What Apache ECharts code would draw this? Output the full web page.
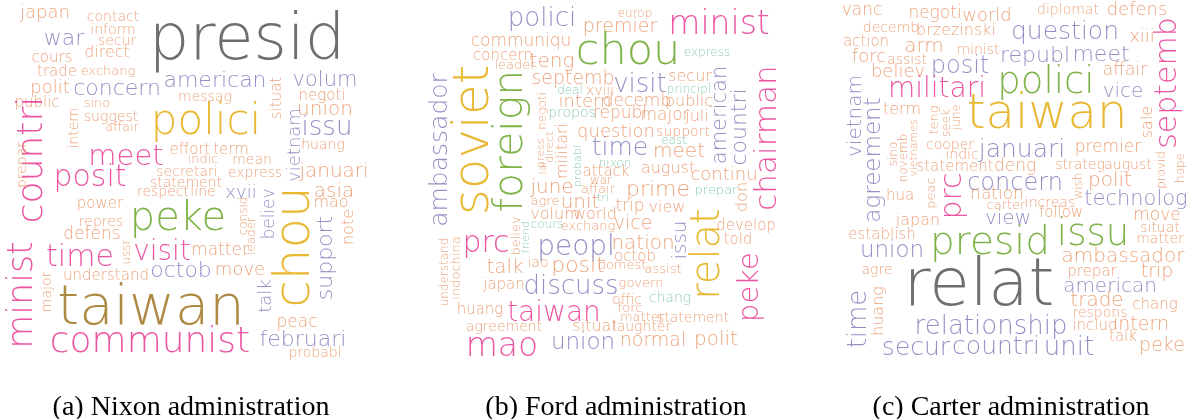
<!DOCTYPE html>
<html>
<head>
    <meta charset="utf-8">
    <title>word clouds by administration</title>
    <script src="https://cdn.jsdelivr.net/npm/echarts@6/dist/echarts.min.js"></script>
</head>
<body style="margin:0;background:#fff;">
<div id="main" style="width:1194px;height:419px;"></div>
<script type="text/javascript">
    // each word: [stem, x, y, weight, vertical, colour group]
    var nixonWords = [
        ['presid', 247, 42, 64, 0, 'k'], ['japan', 45, 13, 18, 0, 'o'], ['contact', 113, 17, 14, 0, 'o'],
        ['inform', 113, 30, 14, 0, 'o'], ['secur', 117, 41, 14, 0, 'o'], ['war', 64, 39, 22, 0, 'u'],
        ['direct', 107, 53, 16, 0, 'o'], ['cours', 52, 58, 15, 0, 'o'], ['trade', 57, 72, 15, 0, 'o'],
        ['exchang', 108, 72, 13, 0, 'o'], ['polit', 50, 88, 18, 0, 'o'], ['concern', 117, 89, 22, 0, 'u'],
        ['american', 215, 81, 22, 0, 'u'], ['volum', 325, 81, 21, 0, 'u'], ['messag', 205, 97, 14, 0, 'o'],
        ['situat', 277, 98, 15, 1, 'o'], ['negoti', 322, 96, 15, 0, 'o'], ['public', 37, 103, 15, 0, 'o'],
        ['sino', 97, 104, 13, 0, 'o'], ['suggest', 111, 117, 14, 0, 'o'], ['affair', 122, 128, 13, 0, 'o'],
        ['intern', 74, 128, 14, 1, 'o'], ['polici', 206, 123, 42, 0, 'y'], ['union', 325, 110, 20, 0, 'o'],
        ['vietnam', 295, 145, 18, 1, 'u'], ['issu', 327, 128, 26, 0, 'u'], ['huang', 323, 145, 14, 0, 'o'],
        ['countri', 33, 160, 36, 1, 'p'], ['meet', 126, 157, 29, 0, 'p'], ['effort', 190, 150, 15, 0, 'o'],
        ['term', 231, 150, 15, 0, 'o'], ['prepar', 22, 165, 14, 1, 'o'], ['indic', 203, 160, 13, 0, 'o'],
        ['mean', 252, 160, 14, 0, 'o'], ['secretari', 187, 172, 14, 0, 'o'], ['express', 255, 173, 14, 0, 'o'],
        ['januari', 334, 172, 20, 0, 'o'], ['posit', 90, 178, 30, 0, 'p'], ['statement', 186, 183, 14, 0, 'o'],
        ['respect', 163, 192, 14, 0, 'o'], ['line', 203, 192, 14, 0, 'o'], ['xvii', 241, 193, 18, 0, 'u'],
        ['asia', 334, 192, 20, 0, 'o'], ['mao', 331, 203, 16, 0, 'o'], ['believ', 270, 214, 17, 1, 'u'],
        ['consid', 244, 216, 12, 1, 'o'], ['leader', 252, 236, 12, 1, 'o'], ['note', 349, 227, 16, 1, 'o'],
        ['support', 326, 258, 22, 1, 'u'], ['chou', 296, 247, 50, 1, 'y'], ['peke', 178, 220, 40, 0, 'g'],
        ['power', 100, 204, 15, 0, 'o'], ['repres', 101, 222, 14, 0, 'o'], ['defens', 92, 235, 17, 0, 'o'],
        ['ussr', 127, 252, 12, 1, 'o'], ['time', 80, 258, 30, 0, 'p'], ['visit', 162, 253, 28, 0, 'p'],
        ['matter', 220, 251, 17, 0, 'o'], ['octob', 181, 271, 22, 0, 'u'], ['understand', 106, 276, 15, 0, 'o'],
        ['move', 240, 270, 18, 0, 'o'], ['minist', 23, 295, 35, 1, 'p'], ['major', 47, 292, 14, 1, 'o'],
        ['taiwan', 151, 309, 56, 0, 'b'], ['talk', 266, 296, 18, 1, 'u'], ['communist', 150, 343, 36, 0, 'p'],
        ['peac', 297, 323, 17, 0, 'o'], ['februari', 303, 340, 22, 0, 'u'], ['probabl', 315, 353, 14, 0, 'o']
    ];

    var fordWords = [
        ['polici', 117, 19, 26, 0, 'u'], ['premier', 195, 27, 19, 0, 'o'], ['europ', 210, 14, 12, 0, 'o'],
        ['minist', 294, 25, 33, 0, 'p'], ['communiqu', 96, 42, 17, 0, 'o'], ['concern', 78, 56, 15, 0, 'o'],
        ['leader', 90, 66, 13, 0, 'o'], ['teng', 127, 62, 20, 0, 'o'], ['chou', 203, 53, 43, 0, 'g'],
        ['express', 282, 53, 12, 0, 't'], ['ambassador', 15, 150, 25, 1, 'u'], ['soviet', 50, 140, 50, 1, 'y'],
        ['foreign', 86, 141, 41, 1, 'g'], ['septemb', 148, 79, 19, 0, 'o'], ['visit', 215, 85, 26, 0, 'u'],
        ['secur', 265, 77, 16, 0, 'o'], ['principl', 264, 90, 12, 0, 't'], ['deal', 145, 91, 12, 0, 't'],
        ['xviii', 175, 91, 14, 0, 'o'], ['intern', 160, 102, 18, 0, 'o'], ['decemb', 212, 102, 17, 0, 'o'],
        ['public', 264, 102, 16, 0, 'o'], ['negoti', 118, 111, 12, 1, 'o'], ['propos', 147, 113, 14, 0, 't'],
        ['republ', 195, 114, 17, 0, 'o'], ['major', 240, 116, 17, 0, 'o'], ['juli', 272, 117, 16, 0, 'o'],
        ['american', 296, 115, 21, 1, 'u'], ['countri', 315, 127, 22, 1, 'u'], ['chairman', 343, 138, 31, 1, 'p'],
        ['militari', 138, 151, 16, 1, 'o'], ['press', 116, 153, 11, 1, 'o'], ['direct', 125, 147, 11, 1, 'o'],
        ['lai', 118, 168, 11, 1, 'o'], ['probabl', 153, 166, 11, 1, 't'], ['question', 191, 132, 18, 0, 'o'],
        ['time', 195, 148, 25, 0, 'u'], ['support', 258, 132, 14, 0, 'o'], ['east', 249, 141, 12, 0, 't'],
        ['meet', 254, 152, 20, 0, 'o'], ['nixon', 190, 164, 12, 0, 't'], ['attack', 181, 172, 15, 0, 'o'],
        ['august', 243, 169, 16, 0, 'o'], ['continu', 299, 175, 18, 0, 'o'], ['war', 176, 181, 12, 0, 'o'],
        ['affair', 173, 190, 13, 0, 'o'], ['tri', 178, 198, 11, 0, 't'], ['june', 127, 188, 20, 0, 'o'],
        ['agre', 120, 202, 13, 0, 'o'], ['unit', 155, 203, 20, 0, 'o'], ['volum', 130, 215, 16, 0, 'o'],
        ['world', 170, 215, 16, 0, 'o'], ['cours', 122, 225, 12, 0, 't'], ['exchang', 163, 227, 13, 0, 'o'],
        ['believ', 92, 236, 13, 1, 'o'], ['friend', 101, 237, 11, 1, 't'], ['prime', 233, 190, 22, 0, 'o'],
        ['prepar', 291, 191, 13, 0, 't'], ['don', 318, 197, 16, 1, 'o'], ['trip', 205, 207, 17, 0, 'o'],
        ['view', 242, 208, 16, 0, 'o'], ['vice', 208, 224, 19, 0, 'o'], ['develop', 321, 226, 15, 0, 'o'],
        ['told', 313, 240, 15, 0, 'o'], ['issu', 256, 240, 20, 1, 'u'], ['relat', 284, 254, 40, 1, 'y'],
        ['peke', 325, 287, 29, 1, 'p'], ['nation', 218, 244, 20, 0, 'o'], ['octob', 210, 257, 15, 0, 'o'],
        ['peopl', 151, 248, 28, 0, 'u'], ['prc', 61, 244, 30, 0, 'p'], ['understand', 20, 272, 12, 1, 'o'],
        ['indochina', 32, 268, 13, 1, 'o'], ['talk', 80, 268, 20, 0, 'o'], ['iao', 113, 263, 14, 0, 'o'],
        ['posit', 153, 266, 22, 0, 'o'], ['domest', 197, 266, 13, 0, 'o'], ['assist', 238, 270, 13, 0, 'o'],
        ['japan', 79, 285, 15, 0, 'o'], ['discuss', 146, 287, 26, 0, 'u'], ['govern', 216, 284, 13, 0, 'o'],
        ['chang', 245, 298, 14, 0, 't'], ['offic', 202, 300, 14, 0, 'o'], ['forc', 205, 309, 13, 0, 'o'],
        ['huang', 55, 310, 15, 0, 'o'], ['taiwan', 129, 314, 28, 0, 'p'], ['matter', 217, 318, 13, 0, 'o'],
        ['statement', 268, 318, 14, 0, 'o'], ['agreement', 79, 327, 14, 0, 'o'], ['situat', 170, 327, 16, 0, 'o'],
        ['laughter', 217, 327, 14, 0, 'o'], ['mao', 77, 347, 33, 0, 'p'], ['union', 158, 343, 23, 0, 'u'],
        ['normal', 228, 341, 19, 0, 'o'], ['polit', 291, 340, 20, 0, 'o']
    ];

    var carterWords = [
        ['vanc', 42, 11, 17, 0, 'o'], ['negoti', 115, 14, 17, 0, 'o'], ['world', 167, 16, 18, 0, 'o'],
        ['diplomat', 248, 10, 14, 0, 'o'], ['defens', 317, 10, 18, 0, 'o'], ['decemb', 71, 28, 14, 0, 'o'],
        ['brzezinski', 136, 31, 16, 0, 'o'], ['action', 46, 42, 15, 0, 'o'], ['arm', 104, 47, 20, 0, 'o'],
        ['minist', 158, 50, 14, 0, 'o'], ['question', 245, 32, 25, 0, 'u'], ['xiii', 322, 37, 18, 0, 'o'],
        ['septemb', 348, 83, 30, 1, 'p'], ['republ', 215, 56, 22, 0, 'u'], ['meet', 281, 55, 22, 0, 'u'],
        ['forc', 49, 57, 18, 0, 'o'], ['assist', 87, 60, 14, 0, 'o'], ['affair', 305, 71, 17, 0, 'o'],
        ['posit', 140, 67, 24, 0, 'u'], ['believ', 78, 72, 18, 0, 'o'], ['polici', 226, 83, 37, 0, 'g'],
        ['vice', 303, 92, 20, 0, 'u'], ['militari', 117, 90, 28, 0, 'p'], ['vietnam', 36, 116, 20, 1, 'u'],
        ['agreement', 54, 160, 23, 1, 'u'], ['term', 82, 110, 16, 0, 'o'], ['teng', 115, 120, 13, 1, 'o'],
        ['seek', 127, 123, 12, 1, 'o'], ['june', 137, 117, 12, 1, 'o'], ['taiwan', 227, 116, 48, 0, 'y'],
        ['sino', 74, 154, 12, 1, 'o'], ['novemb', 84, 158, 12, 1, 'o'], ['vietnames', 94, 148, 11, 1, 'o'],
        ['cooper', 130, 145, 14, 0, 'o'], ['indic', 142, 155, 14, 0, 'o'], ['januari', 202, 150, 25, 0, 'u'],
        ['premier', 288, 148, 17, 0, 'o'], ['sale', 328, 122, 16, 1, 'o'], ['statement', 135, 167, 15, 0, 'o'],
        ['deng', 195, 167, 17, 0, 'o'], ['strateg', 260, 165, 14, 0, 'o'], ['august', 308, 165, 14, 0, 'o'],
        ['provid', 342, 170, 12, 1, 'o'], ['hope', 361, 168, 12, 1, 'o'], ['wish', 259, 186, 12, 1, 'o'],
        ['polit', 290, 181, 20, 0, 'o'], ['concern', 195, 184, 24, 0, 'u'], ['technolog', 316, 200, 21, 0, 'u'],
        ['prc', 133, 196, 30, 1, 'p'], ['nation', 177, 195, 17, 0, 'o'], ['carter', 186, 206, 13, 0, 'o'],
        ['increas', 230, 203, 14, 0, 'o'], ['follow', 241, 213, 15, 0, 'o'], ['view', 188, 219, 20, 0, 'u'],
        ['hua', 80, 196, 15, 0, 'o'], ['peac', 112, 193, 13, 1, 'o'], ['japan', 98, 221, 16, 0, 'o'],
        ['establish', 62, 235, 15, 0, 'o'], ['presid', 170, 244, 39, 0, 'g'], ['issu', 273, 235, 37, 0, 'g'],
        ['union', 72, 251, 23, 0, 'u'], ['ambassador', 303, 257, 20, 0, 'o'], ['move', 337, 216, 17, 0, 'o'],
        ['situat', 340, 228, 14, 0, 'o'], ['matter', 340, 239, 14, 0, 'o'], ['agre', 57, 270, 14, 0, 'o'],
        ['prepar', 272, 272, 15, 0, 'o'], ['trip', 337, 272, 19, 0, 'o'], ['relat', 159, 288, 66, 0, 'k'],
        ['american', 290, 287, 20, 0, 'u'], ['time', 39, 319, 26, 1, 'u'], ['huang', 59, 311, 16, 1, 'o'],
        ['trade', 277, 301, 20, 0, 'o'], ['chang', 335, 305, 15, 0, 'o'], ['respons', 280, 313, 14, 0, 'o'],
        ['relationship', 171, 327, 26, 0, 'u'], ['includ', 275, 326, 15, 0, 'o'], ['intern', 321, 325, 19, 0, 'o'],
        ['talk', 303, 337, 15, 0, 'o'], ['secur', 96, 348, 25, 0, 'u'], ['countri', 176, 347, 25, 0, 'u'],
        ['unit', 249, 348, 26, 0, 'u'], ['peke', 342, 346, 19, 0, 'o']
    ];

    var captions = ['(a) Nixon administration', '(b) Ford administration', '(c) Carter administration'];

    var palette = {
        k: '#4a4a4a', y: '#e4a600', g: '#5f9f1a', p: '#e62a8a', b: '#9a6c14',
        u: '#7a75b6', o: '#e98f5e', t: '#72bf9f'
    };

    var panelLeft = [0, 425, 820];
    var clouds = [nixonWords, fordWords, carterWords];

    var myChart = echarts.init(document.getElementById('main'));

    function cloudSeries(words, i) {
        return {
            type: 'scatter',
            xAxisIndex: i,
            yAxisIndex: i,
            symbolSize: 0,
            silent: true,
            itemStyle: { color: 'transparent' },
            label: {
                show: true,
                position: 'inside',
                align: 'center',
                verticalAlign: 'middle',
                formatter: '{b}',
                fontFamily: 'DejaVu Sans',
                fontWeight: 200
            },
            data: words.map(function (w) {
                return {
                    name: w[0],
                    value: [w[1], w[2]],
                    label: {
                        fontSize: w[3],
                        rotate: w[4] ? 90 : 0,
                        color: palette[w[5]]
                    }
                };
            })
        };
    }

    myChart.setOption({
        animation: false,
        title: captions.map(function (c, i) {
            return {
                text: c,
                left: panelLeft[i] + 186,
                top: 389,
                textAlign: 'center',
                textStyle: { fontFamily: 'Liberation Serif', fontWeight: 'normal', fontSize: 28, color: '#000' }
            };
        }),
        grid: panelLeft.map(function (l) {
            return { left: l, top: 0, width: 370, height: 370 };
        }),
        xAxis: panelLeft.map(function (l, i) {
            return { gridIndex: i, type: 'value', min: 0, max: 370, show: false };
        }),
        yAxis: panelLeft.map(function (l, i) {
            return { gridIndex: i, type: 'value', min: 0, max: 370, inverse: true, show: false };
        }),
        series: clouds.map(cloudSeries)
    });
</script>
</body>
</html>
